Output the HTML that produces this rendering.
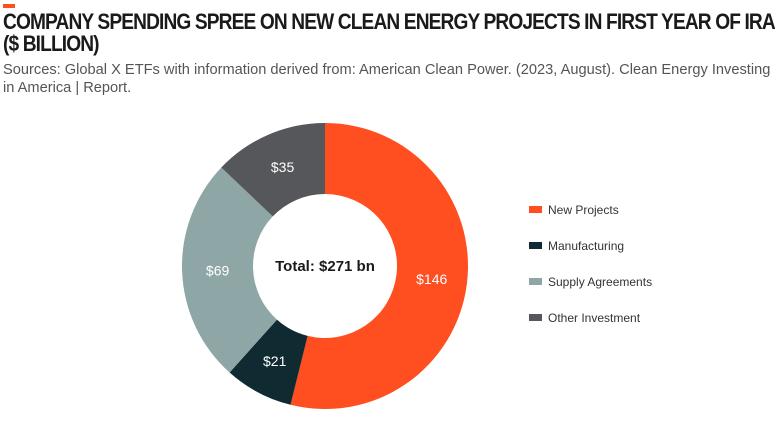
<!DOCTYPE html>
<html><head><meta charset="utf-8"><style>
body{margin:0;width:784px;height:445px;background:#fff;font-family:"Liberation Sans",sans-serif;overflow:hidden;position:relative}
.t{position:absolute;left:3px;top:11px;font-size:22px;font-weight:bold;color:#1a1a1a;line-height:22px;letter-spacing:-1px;transform:scaleX(0.87);transform-origin:left top;white-space:nowrap}
.s{position:absolute;left:3px;top:61px;font-size:15px;color:#555;line-height:18px;transform:scaleX(0.975);transform-origin:left top;white-space:nowrap}
</style></head><body>
<div style="position:absolute;left:3px;top:4px;width:12px;height:4px;background:#ff4e1f"></div>
<div class="t">COMPANY SPENDING SPREE ON NEW CLEAN ENERGY PROJECTS IN FIRST YEAR OF IRA<br>($ BILLION)</div>
<div class="s">Sources: Global X ETFs with information derived from: American Clean Power. (2023, August). Clean Energy Investing<br>in America | Report.</div>
<svg id="c" width="784" height="445" style="position:absolute;left:0;top:0"></svg>
<script>
const categories=["New Projects","Manufacturing","Supply Agreements","Other Investment"];
const values=[146,21,69,35];
const labels=["$146","$21","$69","$35"];
const colors=["#ff4e1f","#0f2a30","#8fa6a6","#55575a"];
const svg=document.getElementById('c');const NS="http://www.w3.org/2000/svg";
const cx=325,cy=266,ro=143,ri=72;
const total=values.reduce((a,b)=>a+b,0);
let a0=0;
function pt(a,r){return [cx+r*Math.sin(a),cy-r*Math.cos(a)];}
values.forEach((v,i)=>{
 const a1=a0+v/total*2*Math.PI;const lg=(a1-a0)>Math.PI?1:0;
 const [x1,y1]=pt(a0,ro),[x2,y2]=pt(a1,ro),[x3,y3]=pt(a1,ri),[x4,y4]=pt(a0,ri);
 const p=document.createElementNS(NS,'path');
 p.setAttribute('d',`M${x1},${y1}A${ro},${ro} 0 ${lg} 1 ${x2},${y2}L${x3},${y3}A${ri},${ri} 0 ${lg} 0 ${x4},${y4}Z`);
 p.setAttribute('fill',colors[i]);
 
 
 svg.appendChild(p);
 const m=(a0+a1)/2;const [lx,ly]=pt(m,(ro+ri)/2);
 const t=document.createElementNS(NS,'text');
 t.setAttribute('x',lx);t.setAttribute('y',ly+5);t.setAttribute('text-anchor','middle');
 t.setAttribute('fill','#fff');t.setAttribute('font-size','14');t.textContent=labels[i];
 
 
 svg.appendChild(t);
 a0=a1;
 const ly2=210+i*36;
 const r=document.createElementNS(NS,'rect');
 r.setAttribute('x',529);r.setAttribute('y',ly2-4);r.setAttribute('width',13);r.setAttribute('height',7);r.setAttribute('fill',colors[i]);
 
 
 svg.appendChild(r);
 const lt=document.createElementNS(NS,'text');
 lt.setAttribute('x',548);lt.setAttribute('y',ly2+4);lt.setAttribute('font-size','12');lt.setAttribute('fill','#333');lt.textContent=categories[i];
 
 
 svg.appendChild(lt);
});
const tt=document.createElementNS(NS,'text');
tt.setAttribute('x',cx);tt.setAttribute('y',cy+5);tt.setAttribute('text-anchor','middle');tt.setAttribute('font-size','15');tt.setAttribute('font-weight','bold');tt.setAttribute('fill','#1a1a1a');
tt.textContent='Total: $'+total+' bn';


svg.appendChild(tt);
</script>
</body></html>
